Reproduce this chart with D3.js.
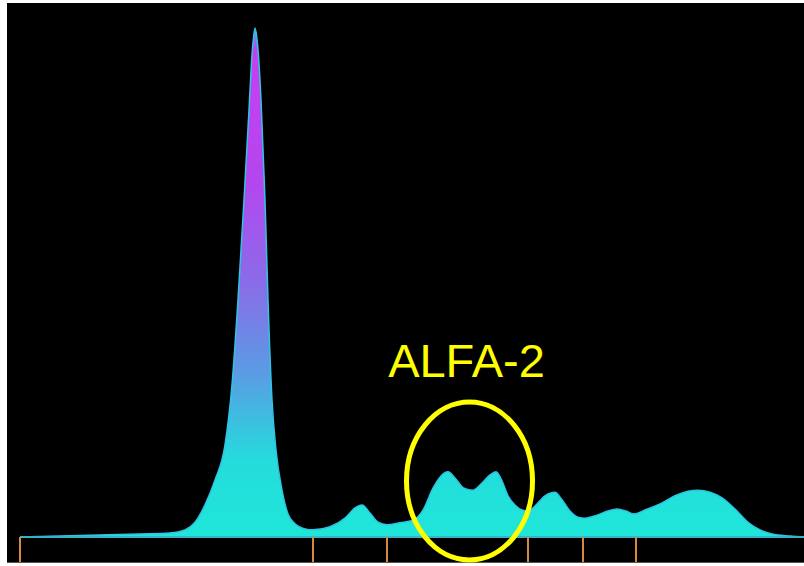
<!DOCTYPE html>
<html>
<head>
<meta charset="utf-8">
<script src="https://cdn.jsdelivr.net/npm/d3@7"></script>
<style>
  html, body { margin: 0; padding: 0; background: #ffffff; }
  svg { display: block; }
</style>
</head>
<body>
<script>
// distance de migration (unités arbitraires) et densité relative (%)
const distance = [0, 40, 80, 120, 150, 165, 175, 185, 195, 205, 212, 218, 224, 229, 232, 235, 238, 241, 245, 248, 252, 256, 262, 268, 275, 285, 293, 310, 325, 335, 342, 350, 358, 367, 380, 393, 403, 413, 421, 428, 435, 444, 453, 462, 470, 476, 482, 488, 495, 502, 508, 515, 525, 535, 542, 550, 558, 565, 577, 588, 597, 606, 614, 625, 640, 655, 668, 678, 690, 702, 715, 728, 740, 752, 770, 784];
const density = [0, 0.2, 0.4, 0.6, 0.8, 1.4, 2.9, 6.3, 11.2, 18.1, 29.9, 46.6, 66.2, 83.9, 94.7, 100, 95.7, 85.9, 66.2, 46.6, 26.9, 17.1, 9.2, 4.5, 2.6, 1.6, 1.4, 2.0, 3.7, 5.7, 6.3, 4.7, 2.9, 2.4, 2.8, 3.3, 5.3, 9.6, 12.0, 12.8, 11.6, 9.6, 9.2, 10.6, 12.2, 12.8, 11.0, 8.1, 6.3, 5.3, 5.1, 6.1, 8.1, 8.8, 7.3, 5.1, 3.9, 3.7, 4.3, 5.1, 5.5, 5.1, 4.5, 5.3, 6.5, 8.1, 9.0, 9.2, 8.8, 7.7, 5.5, 2.9, 1.4, 0.6, 0.2, 0];

// limites des fractions
const fractionBounds = [0, 293, 367, 508, 563, 616];

// annotation
const label = "ALFA-2";
const labelPos = [446.5, 31.4];
const circlePos = [449.5, 11];

const W = 804, H = 566;
const svg = d3.select("body").append("svg").attr("width", W).attr("height", H);

// fond noir
svg.append("rect").attr("x", 7).attr("y", 3).attr("width", W - 7).attr("height", 559).attr("fill", "#000");
svg.append("line").attr("x1", 7).attr("x2", W).attr("y1", 562.5).attr("y2", 562.5).attr("stroke", "#555").attr("stroke-width", 1);

const x = d3.scaleLinear().domain([0, 784]).range([20, 804]);
const y = d3.scaleLinear().domain([0, 100]).range([537, 28]);

const data = distance.map((d, i) => ({ d: d, v: density[i] }));

// dégradé magenta -> cyan
const grad = svg.append("defs").append("linearGradient")
  .attr("id", "g").attr("gradientUnits", "userSpaceOnUse")
  .attr("x1", 0).attr("x2", 0).attr("y1", y(100)).attr("y2", y(0));
grad.append("stop").attr("offset", 0).attr("stop-color", "#30c8ec");
grad.append("stop").attr("offset", 0.04).attr("stop-color", "#c83ef0");
grad.append("stop").attr("offset", 0.3).attr("stop-color", "#b446f0");
grad.append("stop").attr("offset", 0.5).attr("stop-color", "#8a6ce8");
grad.append("stop").attr("offset", 0.68).attr("stop-color", "#5a9ce4");
grad.append("stop").attr("offset", 0.85).attr("stop-color", "#24dcdc");
grad.append("stop").attr("offset", 1).attr("stop-color", "#1fe6d8");

const area = d3.area().x(p => x(p.d)).y0(y(0)).y1(p => y(p.v)).curve(d3.curveMonotoneX);
const line = d3.line().x(p => x(p.d)).y(p => y(p.v)).curve(d3.curveMonotoneX);

svg.append("path").datum(data).attr("d", area).attr("fill", "url(#g)");
svg.append("path").datum(data).attr("d", line).attr("fill", "none")
  .attr("stroke", "#2cc6e4").attr("stroke-width", 1.5);

// ligne de base
svg.append("line").attr("x1", x(0)).attr("x2", W).attr("y1", y(0)).attr("y2", y(0))
  .attr("stroke", "#36b4cc").attr("stroke-width", 2);

// traits des fractions
svg.selectAll(".frac").data(fractionBounds).enter().append("line")
  .attr("class", "frac")
  .attr("x1", d => x(d)).attr("x2", d => x(d))
  .attr("y1", y(0)).attr("y2", 562)
  .attr("stroke", "#d8883c").attr("stroke-width", 2);

// annotation ALFA-2
svg.append("ellipse")
  .attr("cx", x(circlePos[0])).attr("cy", y(circlePos[1]))
  .attr("rx", 63).attr("ry", 79)
  .attr("fill", "none").attr("stroke", "#ffff00").attr("stroke-width", 5);

svg.append("text").text(label)
  .attr("x", x(labelPos[0])).attr("y", y(labelPos[1]))
  .attr("text-anchor", "middle")
  .attr("font-family", "Liberation Sans, Arial, sans-serif")
  .attr("font-size", 47)
  .attr("fill", "#ffff00");
</script>
</body>
</html>
